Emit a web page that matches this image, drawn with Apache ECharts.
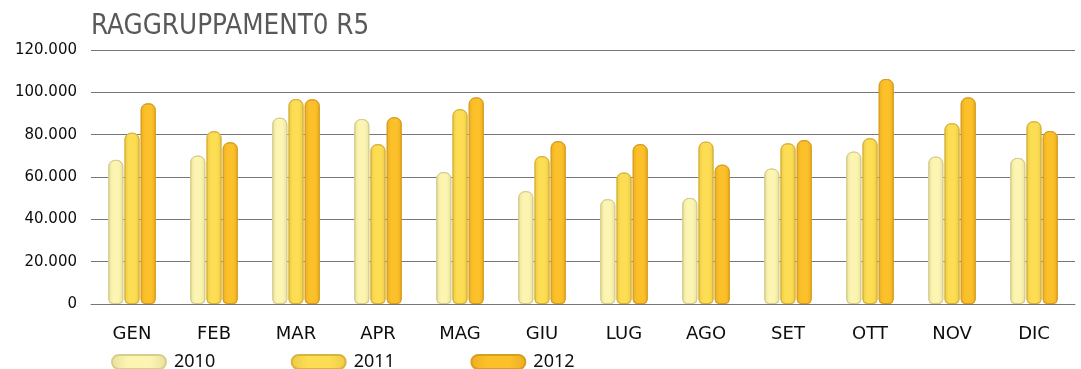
<!DOCTYPE html>
<html>
<head>
<meta charset="utf-8">
<script src="https://cdn.jsdelivr.net/npm/echarts@6/dist/echarts.min.js"></script>
<style>
  html, body { margin: 0; padding: 0; background: #ffffff; }
  #chart { width: 1081px; height: 369px; }
</style>
</head>
<body>
<div id="chart"></div>
<script>
// Monthly totals per year
const months = ['GEN', 'FEB', 'MAR', 'APR', 'MAG', 'GIU', 'LUG', 'AGO', 'SET', 'OTT', 'NOV', 'DIC'];
const years = ['2010', '2011', '2012'];
const values2010 = [68100, 70100, 88000, 87400, 62300, 53300, 49500, 50100, 64000, 72000, 69600, 69000];
const values2011 = [80900, 81600, 96800, 75500, 92000, 69800, 62100, 76700, 75900, 78300, 85400, 86300];
const values2012 = [94800, 76400, 96700, 88200, 97600, 76900, 75500, 65800, 77400, 106300, 97600, 81700];
const yTicks = [0, 20000, 40000, 60000, 80000, 100000, 120000];

// Cylinder-like fill: slightly darker edges, bright centre
function tube(edge, center, border) {
  return {
    color: new echarts.graphic.LinearGradient(0, 0, 1, 0, [
      { offset: 0, color: edge },
      { offset: 0.3, color: center },
      { offset: 0.7, color: center },
      { offset: 1, color: edge }
    ]),
    borderColor: border,
    borderWidth: 1,
    borderRadius: [6, 6, 4, 4]
  };
}

const styles = [
  tube('#e9e09e', '#fcf5b2', '#d8ce8c'),
  tube('#eccb46', '#fcdd54', '#d8b43c'),
  tube('#edae22', '#fcc02a', '#d89e1e')
];
const seriesValues = [values2010, values2011, values2012];

function fmtThousands(v) {
  return String(v).replace(/\B(?=(\d{3})+(?!\d))/g, '.');
}

const chart = echarts.init(document.getElementById('chart'), null, { renderer: 'canvas' });
chart.setOption({
  animation: false,
  backgroundColor: '#ffffff',
  title: {
    text: 'RAGGRUPPAMENT0 R5',
    left: 86,
    top: 8,
    textStyle: {
      fontFamily: '"Liberation Sans Narrow", "DejaVu Sans Condensed", sans-serif',
      fontWeight: 'normal',
      fontSize: 27.5,
      color: '#595959'
    }
  },
  legend: {
    data: years,
    left: 106,
    top: 348,
    itemWidth: 54,
    itemHeight: 14,
    itemGap: 75.5,
    icon: 'path://M7,0 H47 A7,7 0 0 1 47,14 H7 A7,7 0 0 1 7,0 Z',
    textStyle: {
      fontFamily: '"Noto Sans", sans-serif',
      fontSize: 18,
      color: '#111111',
      padding: [0, 0, 0, 3]
    }
  },
  grid: {
    left: 91,
    right: 6,
    top: 50,
    bottom: 65,
    containLabel: false
  },
  xAxis: {
    type: 'category',
    data: months,
    axisLine: { show: true, lineStyle: { color: '#777777', width: 1 } },
    axisTick: { show: false },
    axisLabel: {
      margin: 21,
      fontFamily: '"DejaVu Sans", sans-serif',
      fontSize: 18,
      color: '#0d0d0d'
    }
  },
  yAxis: {
    type: 'value',
    min: yTicks[0],
    max: yTicks[yTicks.length - 1],
    interval: yTicks[1] - yTicks[0],
    axisLine: { show: false },
    axisTick: { show: false },
    splitLine: { show: true, lineStyle: { color: '#777777', width: 1 } },
    axisLabel: {
      margin: 14,
      fontFamily: '"DejaVu Sans", sans-serif',
      fontSize: 15,
      color: '#0d0d0d'
    }
  },
  series: years.map((name, i) => ({
    name: name,
    type: 'bar',
    data: seriesValues[i],
    barWidth: 15,
    barGap: '8%',
    itemStyle: styles[i]
  }))
});
chart.setOption({ yAxis: { axisLabel: { formatter: fmtThousands } } });
</script>
</body>
</html>
